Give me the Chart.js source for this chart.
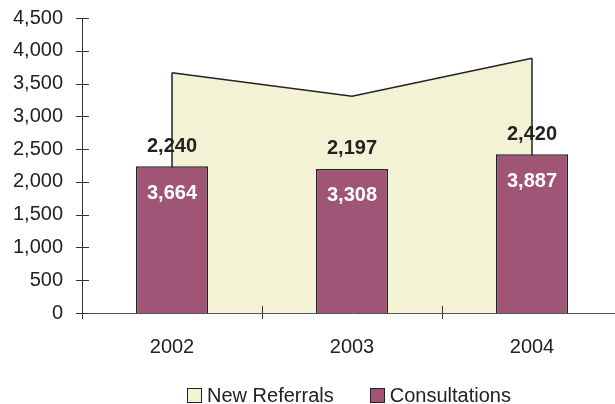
<!DOCTYPE html>
<html>
<head>
    <meta charset="UTF-8">
    <title>New Referrals and Consultations</title>
    <script src="https://cdn.jsdelivr.net/npm/chart.js@4.4.0/dist/chart.umd.min.js"></script>
    <style>
        body { margin: 0; overflow: hidden; background: #fff; }
        #wrap { position: relative; width: 615px; height: 404px; }
        #legend {
            position: absolute; left: 187px; top: 384px;
            font: 20px 'Liberation Sans', Arial, sans-serif; color: #222;
            display: flex; white-space: nowrap;
        }
        #legend .item { display: flex; align-items: center; margin-right: 36px; }
        #legend .box {
            width: 13px; height: 13px; border: 1.5px solid #222; margin-right: 5px;
        }
    </style>
</head>
<body>
    <div id="wrap">
        <canvas id="chart" width="625" height="404"></canvas>
        <div id="legend"></div>
    </div>

    <script>
        // data
        const years = ['2002', '2003', '2004'];
        const newReferrals = [3664, 3308, 3887];
        const consultations = [2240, 2197, 2420];

        const fmt = v => v.toLocaleString('en-US');
        const FONT = "'Liberation Sans', Arial, sans-serif";

        // ticks that cross the axes, plus the side edges of the area
        const axisMarks = {
            id: 'axisMarks',
            afterDatasetDraw(chart, args) {
                if (args.index !== 0) return;
                const ctx = chart.ctx;
                const pts = args.meta.data;
                const base = chart.scales.y.getPixelForValue(0);
                ctx.save();
                ctx.strokeStyle = '#222';
                ctx.lineWidth = 1.5;
                [pts[0], pts[pts.length - 1]].forEach(p => {
                    ctx.beginPath();
                    ctx.moveTo(p.x, p.y);
                    ctx.lineTo(p.x, base);
                    ctx.stroke();
                });
                ctx.restore();
            },
            afterDraw(chart) {
                const ctx = chart.ctx;
                const x = chart.scales.x, y = chart.scales.y;
                const ax = chart.chartArea.left, ay = chart.chartArea.bottom;
                ctx.save();
                ctx.strokeStyle = '#333';
                ctx.lineWidth = 1;
                y.ticks.forEach(t => {
                    const py = Math.round(y.getPixelForValue(t.value)) + 0.5;
                    ctx.beginPath();
                    ctx.moveTo(ax - 6, py);
                    ctx.lineTo(ax + 7, py);
                    ctx.stroke();
                });
                for (let i = 0; i < years.length - 1; i++) {
                    const px = Math.round((x.getPixelForTick(i) + x.getPixelForTick(i + 1)) / 2) + 0.5;
                    ctx.beginPath();
                    ctx.moveTo(px, ay - 7);
                    ctx.lineTo(px, ay + 6);
                    ctx.stroke();
                }
                ctx.beginPath();
                ctx.moveTo(ax + 0.5, ay);
                ctx.lineTo(ax + 0.5, ay + 6);
                ctx.stroke();
                ctx.restore();
            }
        };

        // value labels: consultations above the bars, referrals inside them
        const valueLabels = {
            id: 'valueLabels',
            afterDatasetsDraw(chart) {
                const ctx = chart.ctx;
                const bars = chart.getDatasetMeta(1).data;
                ctx.save();
                ctx.font = 'bold 20px ' + FONT;
                ctx.textAlign = 'center';
                ctx.textBaseline = 'middle';
                bars.forEach((b, i) => {
                    ctx.fillStyle = '#222';
                    ctx.fillText(fmt(consultations[i]), b.x, b.y - 20);
                    ctx.fillStyle = '#fff';
                    ctx.fillText(fmt(newReferrals[i]), b.x, b.y + 27);
                });
                ctx.restore();
            }
        };

        const chart = new Chart(document.getElementById('chart'), {
            data: {
                labels: years,
                datasets: [{
                    type: 'line',
                    label: 'New Referrals',
                    data: newReferrals,
                    backgroundColor: '#f3f2d4',
                    borderColor: '#222',
                    borderWidth: 1.5,
                    pointRadius: 0,
                    tension: 0,
                    fill: 'origin',
                    order: 2
                }, {
                    type: 'bar',
                    label: 'Consultations',
                    data: consultations,
                    backgroundColor: '#a05577',
                    borderColor: '#222',
                    borderWidth: 1.5,
                    barPercentage: 0.4,
                    categoryPercentage: 1,
                    order: 1
                }]
            },
            options: {
                responsive: false,
                animation: false,
                layout: { padding: { top: 18, right: 3, left: 0, bottom: 39 } },
                scales: {
                    x: {
                        offset: true,
                        grid: { display: false, drawTicks: false },
                        border: { display: true, color: '#555', width: 1 },
                        ticks: { color: '#222', font: { family: FONT, size: 20 }, padding: 22 },
                        afterFit: s => { s.height = 52; s.paddingLeft = 0; s.paddingRight = 0; }
                    },
                    y: {
                        min: 0,
                        max: 4500,
                        grid: { display: false, drawTicks: false },
                        border: { display: true, color: '#333', width: 1 },
                        ticks: {
                            stepSize: 500,
                            color: '#222',
                            font: { family: FONT, size: 20 },
                            padding: 19,
                            callback: v => fmt(v)
                        },
                        afterFit: s => { s.width = 82; s.paddingTop = 0; s.paddingBottom = 0; }
                    }
                },
                plugins: {
                    legend: { display: false },
                    tooltip: { enabled: false }
                }
            },
            plugins: [axisMarks, valueLabels]
        });

        // html legend, built from the datasets
        const legend = document.getElementById('legend');
        chart.data.datasets.forEach(ds => {
            const item = document.createElement('div');
            item.className = 'item';
            const box = document.createElement('span');
            box.className = 'box';
            box.style.background = ds.backgroundColor;
            const txt = document.createElement('span');
            txt.textContent = ds.label;
            item.appendChild(box);
            item.appendChild(txt);
            legend.appendChild(item);
        });
    </script>
</body>
</html>
